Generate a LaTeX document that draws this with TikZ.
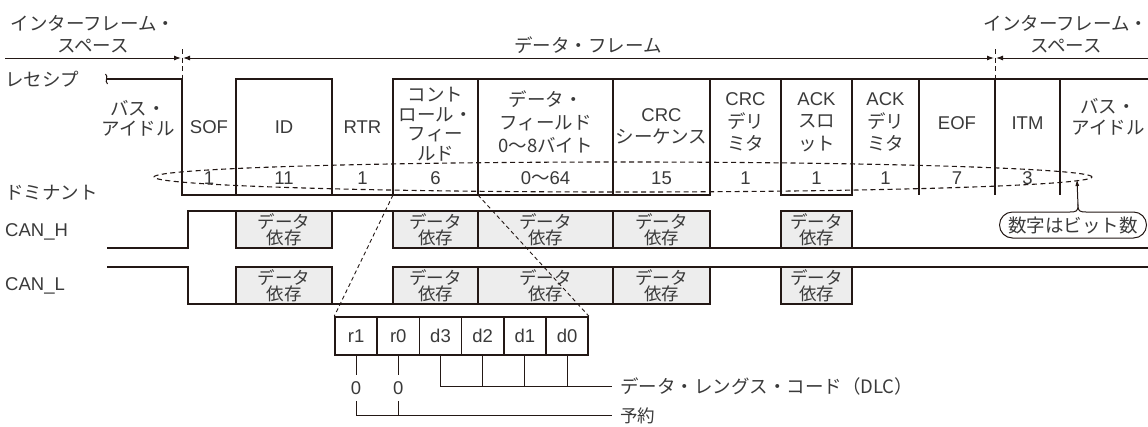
\documentclass[tikz,border=0pt]{standalone}
\usepackage{fontspec}
\setmainfont{Liberation Sans}
\newfontfamily\jp{Noto Sans CJK JP}
\newfontfamily\lat{Liberation Sans}
\usetikzlibrary{arrows.meta,shapes.misc}
\definecolor{ink}{HTML}{231815}
\definecolor{txtc}{HTML}{3A3A3A}
\definecolor{boxgray}{HTML}{EDEDED}
\begin{document}
\begin{tikzpicture}[x=1pt,y=-1pt,
  >={Latex[length=7pt,width=5pt]},
  every node/.style={inner sep=0pt, text=txtc},
  lt/.style={font=\fontsize{18.5}{21}\selectfont\lat, align=center},
  jt/.style={font=\fontsize{18.5}{21}\selectfont\jp, align=center},
  wave/.style={draw=ink, line width=1.8pt, line join=miter},
  thinline/.style={draw=ink, line width=1pt},
  guide/.style={draw=ink, line width=1.1pt, dash pattern=on 5pt off 3.5pt},
  dbox/.style={draw=ink, line width=1.8pt, fill=boxgray, font=\fontsize{17.5}{16.5}\selectfont\jp, align=center, minimum height=37pt},
  bit/.style={draw=ink, line width=1.5pt, minimum width=42.2pt, minimum height=38pt, font=\fontsize{18.5}{21}\selectfont\lat},
]
\useasboundingbox (0,0) rectangle (1148,426);

% ---- top span arrows ----
\coordinate (s0) at (5,58);
\coordinate (dl) at (182,58);
\coordinate (dr) at (995,58);
\coordinate (s1) at (1148,58);
\draw[thinline, ->] (s0) -- ([xshift=-1pt]dl);
\draw[thinline, <->] ([xshift=1pt]dl) -- ([xshift=-1pt]dr);
\draw[thinline, <-] ([xshift=1pt]dr) -- (s1);
\draw[guide, line width=0.9pt] (182,49) -- (182,79);
\draw[guide, line width=0.9pt] (995,49) -- (995,79);

\node[jt, font=\fontsize{18.5}{22}\selectfont\jp] (ifsL) at (93,34) {インターフレーム・\\スペース};
\node[jt, font=\fontsize{18.5}{22}\selectfont\jp] (ifsR) at (1066,34) {インターフレーム・\\スペース};
\node[jt] (df) at (588,45) {データ・フレーム};

% ---- level labels ----
\node[jt, anchor=west] (rec) at (5,79) {レセシプ};
\node[jt, anchor=west] (dom) at (5,193) {ドミナント};
\node[lt, anchor=west] (canh) at (5,232) {CAN\_H};
\node[lt, anchor=west] (canl) at (5,286) {CAN\_L};

% ---- frame waveform ----
\draw[thinline] (105.5,74) .. controls (109,76.5) and (104,81) .. (107.5,84);
\draw[wave] (107,79) -- (182,79) -- (182,195) -- (710,195) -- (710,79);
\draw[wave] (236,195) -- (236,79) -- (332,79) -- (332,195);
\draw[wave] (393,195) -- (393,79) -- (1148,79);
\draw[wave] (478,79) -- (478,195);
\draw[wave] (613,79) -- (613,195);
\draw[wave] (781,79) -- (781,195) -- (852,195) -- (852,79);
\draw[wave] (919,79) -- (919,195);
\draw[wave] (995,79) -- (995,195);
\draw[wave] (1060,79) -- (1060,195);

% ---- field names ----
\node[jt, font=\fontsize{18.5}{20}\selectfont\jp] (idleL) at (138,118) {バス・\\アイドル};
\node[lt] (sof) at (209,127) {SOF};
\node[lt] (id) at (284,127) {ID};
\node[lt] (rtr) at (362.5,127) {RTR};
\node[jt, font=\fontsize{18.5}{19.5}\selectfont\jp] (ctl) at (435.5,124) {コント\\ロール・\\フィー\\ルド};
\node[jt, font=\fontsize{18.5}{23}\selectfont\jp] (dat) at (545.5,122) {データ・\\フィールド\\0～8バイト};
\node[jt, font=\fontsize{18.5}{22}\selectfont\jp] (crc) at (661.5,126) {{\lat CRC}\\シーケンス};
\node[jt, font=\fontsize{18.5}{22.5}\selectfont\jp] (crcd) at (745.5,122) {{\lat CRC}\\デリ\\ミタ};
\node[jt, font=\fontsize{18.5}{22.5}\selectfont\jp] (acks) at (816.5,122) {{\lat ACK}\\スロ\\ット};
\node[jt, font=\fontsize{18.5}{22.5}\selectfont\jp] (ackd) at (885.5,122) {{\lat ACK}\\デリ\\ミタ};
\node[lt] (eof) at (957,123) {EOF};
\node[lt] (itm) at (1027.5,123) {ITM};
\node[jt, font=\fontsize{18.5}{21}\selectfont\jp] (idleR) at (1108,117) {バス・\\アイドル};

% ---- bit counts ----
\draw[guide] (623,177) ellipse [x radius=469pt, y radius=15pt];
\node[lt] (n1) at (209,178) {1};
\node[lt] (n2) at (284,178) {11};
\node[lt] (n3) at (362.5,178) {1};
\node[lt] (n4) at (435.5,178) {6};
\node[lt] (n5) at (545.5,178) {0{\jp ～}64};
\node[lt] (n6) at (661.5,178) {15};
\node[lt] (n7) at (745.5,178) {1};
\node[lt] (n8) at (816.5,178) {1};
\node[lt] (n9) at (885.5,178) {1};
\node[lt] (n10) at (957,178) {7};
\node[lt] (n11) at (1027.5,178) {3};

% ---- note ----
\node[draw=ink, line width=1pt, rounded rectangle, minimum width=147pt, minimum height=26pt, jt, fill=white] (note) at (1073,225) {数字はビット数};
\coordinate (notch) at (1078,206);
\coordinate (tip) at (1077,179);
\fill[white] (1070,210) rectangle (1086,214);
\draw[thinline] (1070,212) .. controls (1076,212) and (1078,211) .. (notch) .. controls (1078,211) and (1080,212) .. (1086,212);
\draw[thinline, -{Latex[length=7pt,width=4pt]}] (notch) -- (tip);

% ---- CAN_H ----
\draw[wave] (107,248) -- (188,248) -- (188,211) -- (236,211);
\draw[wave] (332,211) -- (393,211);
\draw[wave] (710,248) -- (1148,248);
\node[dbox, minimum width=96pt] (h1) at (284,229.5) {データ\\依存};
\node[dbox, minimum width=85pt] (h2) at (435.5,229.5) {データ\\依存};
\node[dbox, minimum width=135pt] (h3) at (545.5,229.5) {データ\\依存};
\node[dbox, minimum width=97pt] (h4) at (661.5,229.5) {データ\\依存};
\node[dbox, minimum width=71pt] (h5) at (816.5,229.5) {データ\\依存};

% ---- CAN_L ----
\draw[wave] (107,267) -- (188,267) -- (188,304) -- (236,304);
\draw[wave] (332,304) -- (393,304);
\draw[wave] (710,267) -- (1148,267);
\node[dbox, minimum width=96pt] (l1) at (284,285.5) {データ\\依存};
\node[dbox, minimum width=85pt] (l2) at (435.5,285.5) {データ\\依存};
\node[dbox, minimum width=135pt] (l3) at (545.5,285.5) {データ\\依存};
\node[dbox, minimum width=97pt] (l4) at (661.5,285.5) {データ\\依存};
\node[dbox, minimum width=71pt] (l5) at (816.5,285.5) {データ\\依存};

% ---- control field detail ----
\node[bit] (r1) at (356.1,336) {r1};
\node[bit] (r0) at (398.3,336) {r0};
\node[bit] (d3) at (440.5,336) {d3};
\node[bit] (d2) at (482.7,336) {d2};
\node[bit] (d1) at (524.9,336) {d1};
\node[bit] (d0) at (567.1,336) {d0};
\coordinate (cfL) at (393,195);
\coordinate (cfR) at (478,195);
\draw[ink, line width=0.9pt, dash pattern=on 4pt off 3pt] (cfL) -- (r1.north west);
\draw[ink, line width=0.9pt, dash pattern=on 4pt off 3pt] (cfR) -- (d0.north east);

\node[lt, inner ysep=6.5pt] (z1) at (356.1,388) {0};
\node[lt, inner ysep=6.5pt] (z0) at (398.3,388) {0};
\node[jt, anchor=west, inner xsep=8pt] (dlc) at (612,386) {データ・レングス・コード（DLC）};
\node[jt, anchor=west, inner xsep=8pt, font=\fontsize{17.5}{20}\selectfont\jp] (rsv) at (612,415.5) {予約};

\draw[thinline] (r1.south) -- (z1.north);
\draw[thinline] (r0.south) -- (z0.north);
\draw[thinline] (z1.south) |- (rsv.west);
\draw[thinline] (z0.south) -- (z0.south |- rsv.west);
\draw[thinline] (d3.south) |- (dlc.west);
\draw[thinline] (d2.south) -- (d2.south |- dlc.west);
\draw[thinline] (d1.south) -- (d1.south |- dlc.west);
\draw[thinline] (d0.south) -- (d0.south |- dlc.west);
\end{tikzpicture}
\end{document}
